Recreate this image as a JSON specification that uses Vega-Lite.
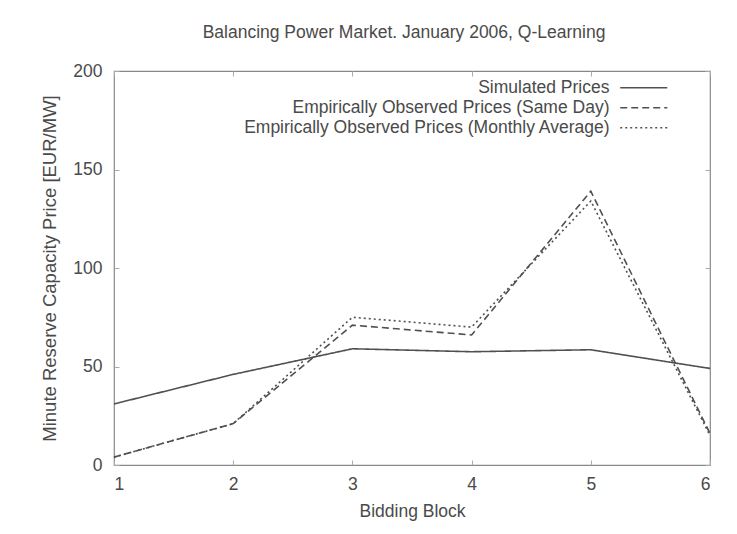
{
  "$schema": "https://vega.github.io/schema/vega-lite/v6.json",
  "width": 596,
  "height": 394,
  "autosize": {"type": "none"},
  "padding": {"left": 114, "top": 71, "right": 27, "bottom": 69},
  "background": "white",
  "title": {
    "text": "Balancing Power Market. January 2006, Q-Learning",
    "font": "Liberation Sans",
    "fontSize": 17.5,
    "fontWeight": "normal",
    "color": "#4a4a4a",
    "anchor": "middle",
    "dx": -8,
    "offset": 21
  },
  "config": {
    "view": {"stroke": "#888", "strokeWidth": 1.2},
    "font": "Liberation Sans"
  },
  "data": {
    "values": [
      {"block": 1, "series": "Simulated Prices", "price": 31},
      {"block": 2, "series": "Simulated Prices", "price": 46},
      {"block": 3, "series": "Simulated Prices", "price": 59},
      {"block": 4, "series": "Simulated Prices", "price": 57.5},
      {"block": 5, "series": "Simulated Prices", "price": 58.5},
      {"block": 6, "series": "Simulated Prices", "price": 49},
      {"block": 1, "series": "Empirically Observed Prices (Same Day)", "price": 4},
      {"block": 2, "series": "Empirically Observed Prices (Same Day)", "price": 21},
      {"block": 3, "series": "Empirically Observed Prices (Same Day)", "price": 71},
      {"block": 4, "series": "Empirically Observed Prices (Same Day)", "price": 66},
      {"block": 5, "series": "Empirically Observed Prices (Same Day)", "price": 139},
      {"block": 6, "series": "Empirically Observed Prices (Same Day)", "price": 16},
      {"block": 1, "series": "Empirically Observed Prices (Monthly Average)", "price": 4},
      {"block": 2, "series": "Empirically Observed Prices (Monthly Average)", "price": 21},
      {"block": 3, "series": "Empirically Observed Prices (Monthly Average)", "price": 75},
      {"block": 4, "series": "Empirically Observed Prices (Monthly Average)", "price": 70},
      {"block": 5, "series": "Empirically Observed Prices (Monthly Average)", "price": 134},
      {"block": 6, "series": "Empirically Observed Prices (Monthly Average)", "price": 15}
    ]
  },
  "layer": [
    {
      "mark": {"type": "line", "strokeWidth": 1.6, "color": "#505050"},
      "encoding": {
        "x": {
          "field": "block",
          "type": "quantitative",
          "scale": {"domain": [1, 6], "nice": false},
          "axis": {
            "title": "Bidding Block",
            "values": [1, 2, 3, 4, 5, 6],
            "format": "d",
            "grid": false,
            "domain": false,
            "tickSize": -5,
            "tickColor": "#aaa",
            "labelPadding": 15,
            "labelFontSize": 17.5,
            "labelColor": "#4a4a4a",
            "titleFontSize": 17.5,
            "titleFontWeight": "normal",
            "titleColor": "#4a4a4a",
            "titlePadding": 10
          }
        },
        "y": {
          "field": "price",
          "type": "quantitative",
          "scale": {"domain": [0, 200], "nice": false},
          "axis": {
            "title": "Minute Reserve Capacity Price [EUR/MW]",
            "values": [0, 50, 100, 150, 200],
            "grid": false,
            "domain": false,
            "tickSize": -5,
            "tickColor": "#aaa",
            "labelPadding": 17,
            "labelFontSize": 17.5,
            "labelColor": "#4a4a4a",
            "titleFontSize": 18.5,
            "titleFontWeight": "normal",
            "titleColor": "#4a4a4a",
            "titlePadding": 13
          }
        },
        "strokeDash": {
          "field": "series",
          "type": "nominal",
          "scale": {
            "domain": ["Simulated Prices", "Empirically Observed Prices (Same Day)", "Empirically Observed Prices (Monthly Average)"],
            "range": [[1, 0], [7, 4], [2, 3]]
          },
          "legend": {
            "title": null,
            "orient": "none",
            "legendX": 521,
            "legendY": 8,
            "padding": 0,
            "symbolType": "M-3,0H3",
            "symbolSize": 246,
            "symbolStrokeColor": "#505050",
            "symbolFillColor": "transparent",
            "symbolStrokeWidth": 1.3,
            "labelFontSize": 17.5,
            "labelColor": "#4a4a4a",
            "labelAlign": "right",
            "labelOffset": -43,
            "labelLimit": 500,
            "rowPadding": 1
          }
        }
      }
    },
    {
      "mark": {"type": "line", "opacity": 0},
      "encoding": {
        "x": {
          "field": "block",
          "type": "quantitative",
          "axis": {
            "orient": "top",
            "title": null,
            "values": [1, 2, 3, 4, 5, 6],
            "labels": false,
            "grid": false,
            "domain": false,
            "tickSize": -5,
            "tickColor": "#aaa"
          }
        },
        "y": {
          "field": "price",
          "type": "quantitative",
          "axis": {
            "orient": "right",
            "title": null,
            "values": [0, 50, 100, 150, 200],
            "labels": false,
            "grid": false,
            "domain": false,
            "tickSize": -5,
            "tickColor": "#aaa"
          }
        },
        "detail": {"field": "series", "type": "nominal"}
      }
    }
  ],
  "resolve": {"axis": {"x": "independent", "y": "independent"}}
}
